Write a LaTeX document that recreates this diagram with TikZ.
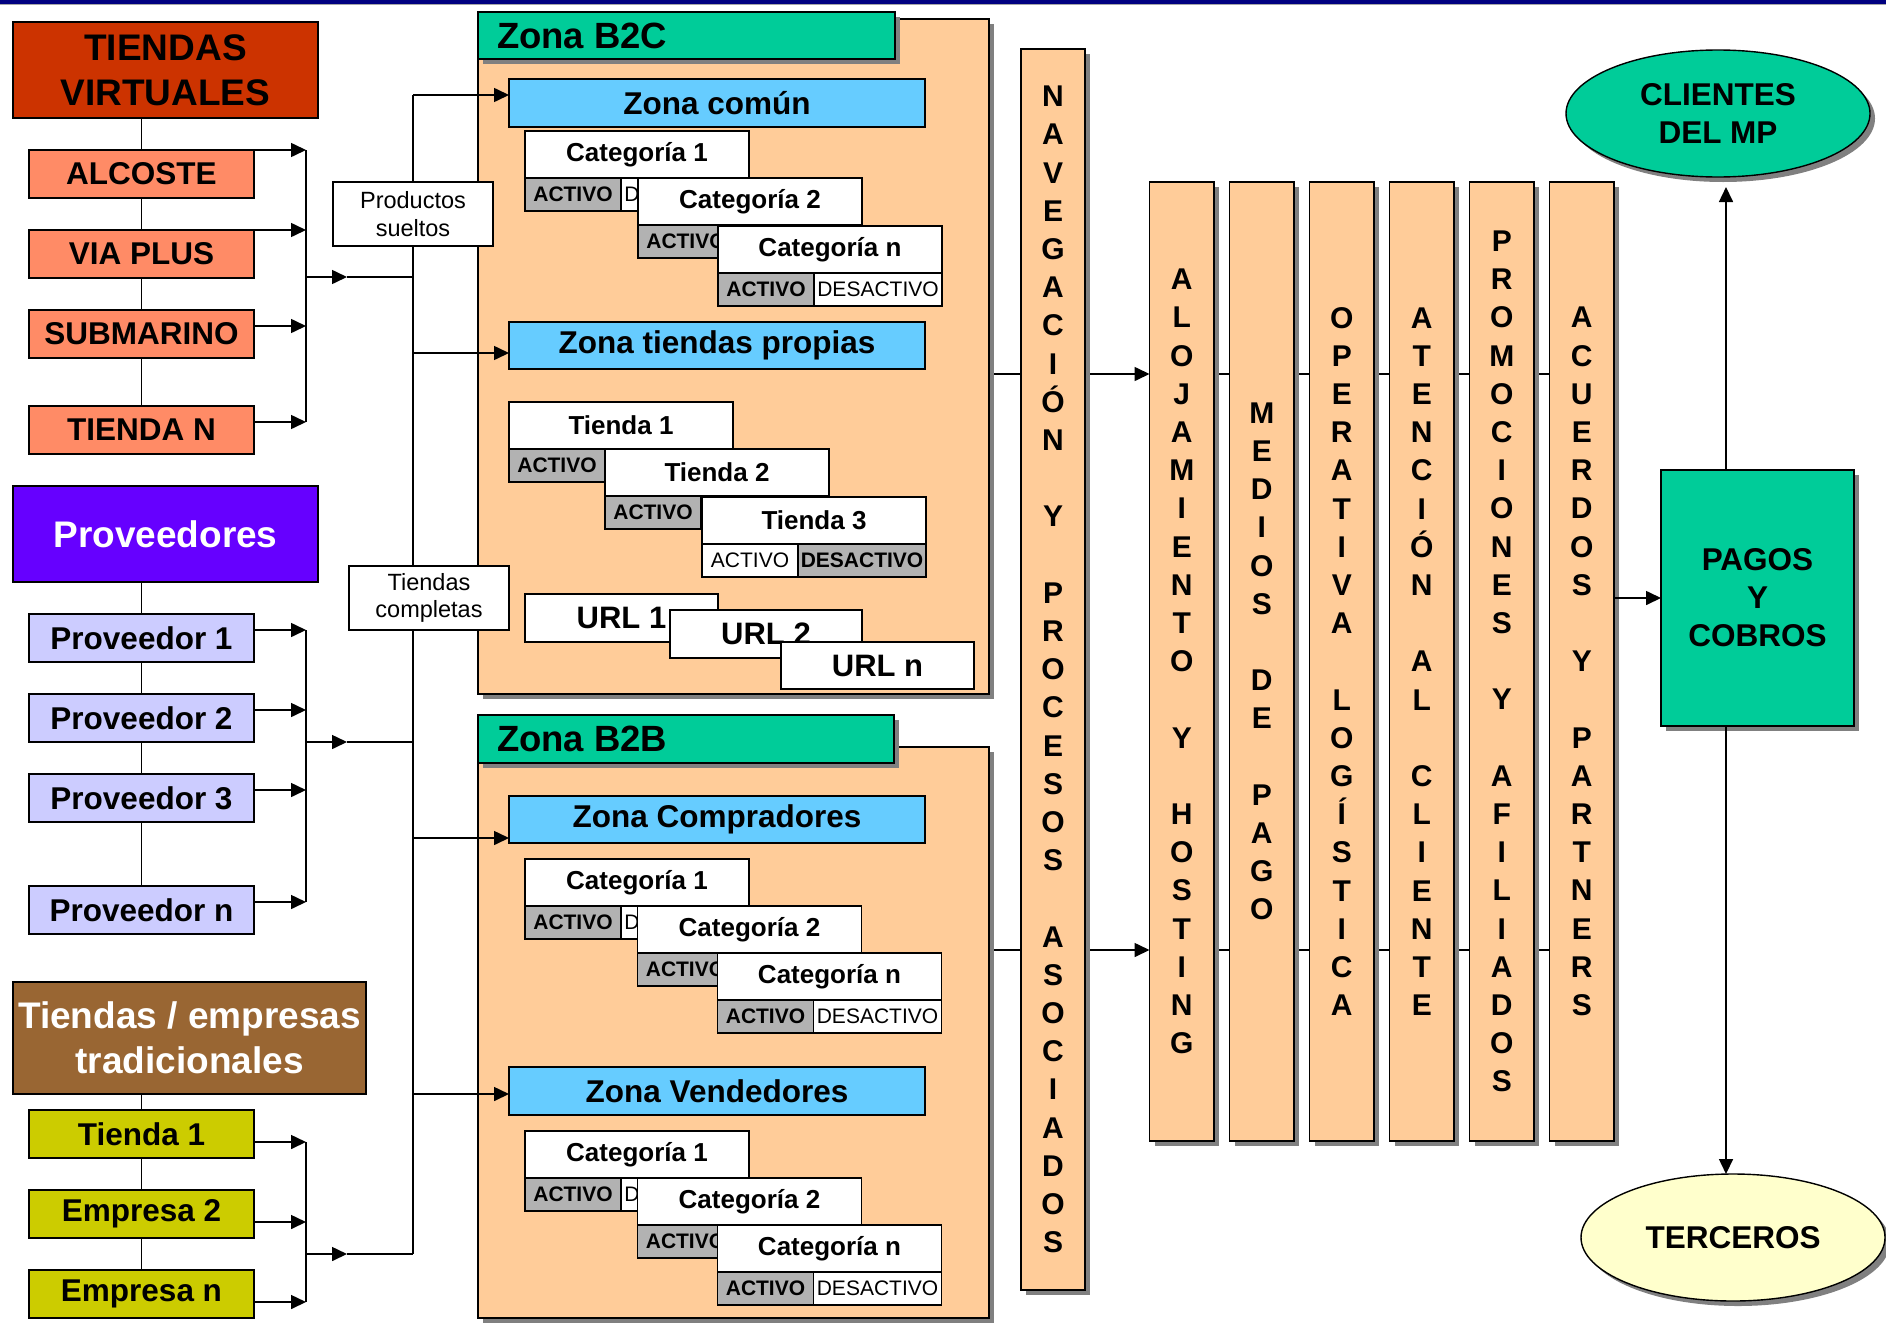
\documentclass[tikz,border=0pt]{standalone}
\usepackage{fontspec}
\setmainfont{Liberation Sans}
\usetikzlibrary{arrows.meta,shapes.geometric,shadows,calc}
\pgfdeclarelayer{bg}
\pgfdeclarelayer{paper}
\pgfsetlayers{paper,bg,main}
\definecolor{cNavy}{HTML}{000080}
\definecolor{cRed}{HTML}{CC3300}
\definecolor{cSalmon}{HTML}{FF8B66}
\definecolor{cPurple}{HTML}{6600FF}
\definecolor{cLav}{HTML}{CCCCFF}
\definecolor{cBrown}{HTML}{996633}
\definecolor{cYel}{HTML}{CCCC00}
\definecolor{cOrange}{HTML}{FFCC99}
\definecolor{cGreen}{HTML}{00CC99}
\definecolor{cBlue}{HTML}{66CCFF}
\definecolor{cGray}{HTML}{B2B2B2}
\definecolor{cCream}{HTML}{FFFFCC}
\definecolor{cShadow}{HTML}{808080}
\newcommand\ftA{\fontsize{37}{45}\selectfont\bfseries}
\newcommand\ftB{\fontsize{31.5}{38}\selectfont\bfseries}
\newcommand\ftS{\fontsize{23.5}{27.5}\selectfont}
\newcommand\ftT{\fontsize{36.5}{44}\selectfont\bfseries}
\newcommand\ftC{\fontsize{26}{31}\selectfont\bfseries}
\newcommand\ftK{\fontsize{21}{25}\selectfont}
\newcommand\ftU{\fontsize{31}{37}\selectfont\bfseries}
\newcommand\ftV{\fontsize{30}{38.2}\selectfont\bfseries}
\newcommand\rbox[7]{%
 \pgfmathsetmacro\rbw{#5-#3}\pgfmathsetmacro\rbh{#6-#4}%
 \node[#2, minimum width=\rbw pt, minimum height=\rbh pt, anchor=north west] (#1) at (#3,#4) {#7};}
\newcommand\catg[6]{%
 \node[bx, fill=white, font=\ftC, minimum width=224pt, minimum height=47pt, anchor=north west] (#1) at (#2,#3) {#4};
 \node[#5, minimum width=96pt, minimum height=33pt, anchor=north west] (#1a) at (#1.south west) {ACTIVO};
 \node[#6, minimum width=128pt, minimum height=33pt, anchor=north west] (#1d) at (#1a.north east) {DESACTIVO};}
\begin{document}
\begin{tikzpicture}[x=1pt,y=-1pt,
 every node/.style={inner sep=0pt, outer sep=0pt},
 bx/.style={draw=black, line width=1.8pt},
 shd/.style={drop shadow={shadow xshift=5pt, shadow yshift=-5pt, opacity=1, fill=cShadow}},
 ln/.style={line width=1.6pt},
 arr/.style={line width=1.6pt, -{Triangle[length=15pt,width=14pt]}},
 acts/.style={bx, fill=cGray, font=\ftK\bfseries},
 deacts/.style={bx, fill=white, font=\ftK},
 actw/.style={bx, fill=white, font=\ftK},
 deactg/.style={bx, fill=cGray, font=\ftK\bfseries},
 zone/.style={bx, fill=cBlue, font=\ftB},
 col/.style={bx, fill=cOrange, shd, font=\ftV, align=center},
 ell/.style={ellipse, draw=black, line width=1.4pt, shd, font=\ftB, align=center, minimum width=304pt, minimum height=127pt}]
\begin{pgfonlayer}{paper}
\path[fill=white, use as bounding box] (0,0) rectangle (1886,1325);
\end{pgfonlayer}
\fill[cNavy] (0,0) rectangle (1886,3.6);
\fill[black!35] (0,3.6) rectangle (1886,5);

% ---------- left column ----------
\rbox{tv}{bx, fill=cRed, font=\ftA, align=center}{13}{22}{318}{118}{TIENDAS\\VIRTUALES}
\rbox{alcoste}{bx, fill=cSalmon, font=\ftB}{29}{150}{254}{198}{ALCOSTE}
\rbox{viaplus}{bx, fill=cSalmon, font=\ftB}{29}{230}{254}{278}{VIA PLUS}
\rbox{submarino}{bx, fill=cSalmon, font=\ftB}{29}{310}{254}{358}{SUBMARINO}
\rbox{tiendan}{bx, fill=cSalmon, font=\ftB}{29}{406}{254}{454}{TIENDA N}

\rbox{prov}{bx, fill=cPurple, text=white, font=\ftA}{13}{486}{318}{582}{Proveedores}
\rbox{p1}{bx, fill=cLav, font=\ftB}{29}{614}{254}{662}{Proveedor 1}
\rbox{p2}{bx, fill=cLav, font=\ftB}{29}{694}{254}{742}{Proveedor 2}
\rbox{p3}{bx, fill=cLav, font=\ftB}{29}{774}{254}{822}{Proveedor 3}
\rbox{pn}{bx, fill=cLav, font=\ftB}{29}{886}{254}{934}{Proveedor n}

\rbox{trad}{bx, fill=cBrown, text=white, font=\ftA, align=center}{13}{982}{366}{1094}{Tiendas / empresas\\tradicionales}
\rbox{t1}{bx, fill=cYel, font=\ftB}{29}{1110}{254}{1158}{Tienda 1}
\rbox{e2}{bx, fill=cYel, font=\ftB}{29}{1190}{254}{1238}{Empresa 2}
\rbox{en}{bx, fill=cYel, font=\ftB}{29}{1270}{254}{1318}{Empresa n}

% ---------- B2C ----------
\rbox{b2c}{bx, fill=cOrange, shd}{478}{19}{989}{694}{}
\rbox{b2ctitle}{bx, fill=cGreen, shd}{478}{12}{895}{59}{}
\node[anchor=west, font=\ftT] (b2clabel) at ([xshift=19pt]b2ctitle.west) {Zona B2C};
\rbox{zc}{zone}{509}{79}{925}{127}{Zona común}
\catg{c1}{525}{131}{Categoría 1}{acts}{deacts}
\catg{c2}{638}{178}{Categoría 2}{acts}{deacts}
\catg{c3}{718}{226}{Categoría n}{acts}{deacts}
\rbox{ztp}{zone}{509}{322}{925}{369}{Zona tiendas propias}
\catg{s1}{509}{402}{Tienda 1}{acts}{deacts}
\catg{s2}{605}{449}{Tienda 2}{acts}{deacts}
\catg{s3}{702}{497}{Tienda 3}{actw}{deactg}
\rbox{u1}{bx, fill=white, font=\ftU}{525}{594}{718}{642}{URL 1}
\rbox{u2}{bx, fill=white, font=\ftU}{670}{610}{862}{658}{URL 2}
\rbox{un}{bx, fill=white, font=\ftU}{781}{642}{974}{689}{URL n}

% ---------- B2B ----------
\rbox{b2b}{bx, fill=cOrange, shd}{478}{747}{989}{1318}{}
\rbox{b2btitle}{bx, fill=cGreen, shd}{478}{715}{894}{763}{}
\node[anchor=west, font=\ftT] (b2blabel) at ([xshift=19pt]b2btitle.west) {Zona B2B};
\rbox{zcomp}{zone}{509}{796}{925}{843}{Zona Compradores}
\catg{d1}{525}{859}{Categoría 1}{acts}{deacts}
\catg{d2}{637.5}{906}{Categoría 2}{acts}{deacts}
\catg{d3}{717.5}{953}{Categoría n}{acts}{deacts}
\rbox{zv}{zone}{509}{1067}{925}{1115}{Zona Vendedores}
\catg{v1}{525}{1131}{Categoría 1}{acts}{deacts}
\catg{v2}{637.5}{1178}{Categoría 2}{acts}{deacts}
\catg{v3}{717.5}{1225}{Categoría n}{acts}{deacts}

% ---------- label boxes ----------
\rbox{ps}{bx, fill=white, font=\ftS, align=center}{333}{182}{493}{246}{Productos\\sueltos}
\rbox{tc}{bx, fill=white, font=\ftS, align=center}{349}{566}{509}{630}{Tiendas\\completas}

% ---------- right part ----------
\rbox{nav}{col}{1021}{49}{1085}{1290}{N\\A\\V\\E\\G\\A\\C\\I\\Ó\\N\\[38.2pt]Y\\[38.2pt]P\\R\\O\\C\\E\\S\\O\\S\\[38.2pt]A\\S\\O\\C\\I\\A\\D\\O\\S}
\rbox{aloj}{col}{1149.5}{182}{1214}{1141}{A\\L\\O\\J\\A\\M\\I\\E\\N\\T\\O\\[38.2pt]Y\\[38.2pt]H\\O\\S\\T\\I\\N\\G}
\rbox{medios}{col}{1229.5}{182}{1294}{1141}{M\\E\\D\\I\\O\\S\\[38.2pt]D\\E\\[38.2pt]P\\A\\G\\O}
\rbox{oper}{col}{1309.5}{182}{1374}{1141}{O\\P\\E\\R\\A\\T\\I\\V\\A\\[38.2pt]L\\O\\G\\Í\\S\\T\\I\\C\\A}
\rbox{aten}{col}{1389.5}{182}{1454}{1141}{A\\T\\E\\N\\C\\I\\Ó\\N\\[38.2pt]A\\L\\[38.2pt]C\\L\\I\\E\\N\\T\\E}
\rbox{promo}{col}{1469.5}{182}{1534}{1141}{P\\R\\O\\M\\O\\C\\I\\O\\N\\E\\S\\[38.2pt]Y\\[38.2pt]A\\F\\I\\L\\I\\A\\D\\O\\S}
\rbox{acue}{col}{1549.5}{182}{1614}{1141}{A\\C\\U\\E\\R\\D\\O\\S\\[38.2pt]Y\\[38.2pt]P\\A\\R\\T\\N\\E\\R\\S}

\rbox{pagos}{bx, fill=cGreen, shd, font=\ftB, align=center}{1661}{470}{1854}{726}{PAGOS\\Y\\COBROS}
\node[ell, fill=cGreen] (cli) at (1718,113.5) {CLIENTES\\DEL MP};
\node[ell, fill=cCream] (ter) at (1733,1237.5) {TERCEROS};

% ---------- coordinates ----------
\coordinate (g1) at (306,150);  \coordinate (g1b) at (306,422);  \coordinate (g1m) at (306,277);  \coordinate (g1t) at (347,277);
\coordinate (g2) at (306,630);  \coordinate (g2b) at (306,902);  \coordinate (g2m) at (306,742);  \coordinate (g2t) at (347,742);
\coordinate (g3) at (306,1142); \coordinate (g3b) at (306,1302); \coordinate (g3m) at (306,1254); \coordinate (g3t) at (347,1254);
\coordinate (hubT) at (413,95); \coordinate (hubB) at (413,1254);
\coordinate (h2) at (413,353); \coordinate (h3) at (413,838); \coordinate (h4) at (413,1094);
\coordinate (rA) at (1000,374); \coordinate (rB) at (1000,950); \coordinate (rC) at (1620,598);
\coordinate (cx) at (1726,0);
\coordinate (s3) at ($(submarino.north east)+(0,16)$);
\coordinate (s4) at ($(tiendan.north east)+(0,16)$);
\coordinate (q1) at ($(p1.north east)+(0,16)$);
\coordinate (q2) at ($(p2.north east)+(0,16)$);
\coordinate (q3) at ($(p3.north east)+(0,16)$);
\coordinate (q4) at ($(pn.north east)+(0,16)$);
\coordinate (k1) at ($(t1.north east)+(0,32)$);
\coordinate (k2) at ($(e2.north east)+(0,32)$);
\coordinate (k3) at ($(en.north east)+(0,32)$);
\coordinate (cliB) at ($(cli.south)+(0,10)$);

% ---------- connectors behind ----------
\begin{pgfonlayer}{bg}
\draw[ln] (alcoste.north |- tv.south) -- (tiendan.north);
\draw[ln] (p1.north |- prov.south) -- (pn.north);
\draw[ln] (t1.north |- trad.south) -- (en.north);
\draw[ln] (hubT) -- (hubB);
\draw[arr] (b2c.east |- rA) -- (aloj.west |- rA);
\draw[ln] (aloj.east |- rA) -- (acue.west |- rA);
\draw[arr] (b2b.east |- rB) -- (aloj.west |- rB);
\draw[ln] (aloj.east |- rB) -- (acue.west |- rB);
\end{pgfonlayer}

% ---------- connectors in front ----------
\draw[arr] (alcoste.north east) -- (alcoste.north east -| g1);
\draw[arr] (viaplus.north east) -- (viaplus.north east -| g1);
\draw[arr] (s3) -- (s3 -| g1);
\draw[arr] (s4) -- (s4 -| g1);
\draw[ln] (g1) -- (g1b);
\draw[arr] (g1m) -- (g1t);
\draw[ln] (g1t) -- (g1m -| hubT);

\draw[arr] (q1) -- (q1 -| g2);
\draw[arr] (q2) -- (q2 -| g2);
\draw[arr] (q3) -- (q3 -| g2);
\draw[arr] (q4) -- (q4 -| g2);
\draw[ln] (g2) -- (g2b);
\draw[arr] (g2m) -- (g2t);
\draw[ln] (g2t) -- (g2m -| hubT);

\draw[arr] (k1) -- (k1 -| g3);
\draw[arr] (k2) -- (k2 -| g3);
\draw[arr] (k3) -- (k3 -| g3);
\draw[ln] (g3) -- (g3b);
\draw[arr] (g3m) -- (g3t);
\draw[ln] (g3t) -- (hubB);

\draw[arr] (hubT) -- (hubT -| zc.west);
\draw[arr] (h2) -- (h2 -| ztp.west);
\draw[arr] (h3) -- (h3 -| zcomp.west);
\draw[arr] (h4) -- (h4 -| zv.west);

\draw[arr] (acue.east |- rC) -- (pagos.west |- rC);
\draw[arr] (pagos.north -| cx) -- (cliB -| cx);
\draw[arr] (pagos.south -| cx) -- (ter.north -| cx);
\end{tikzpicture}
\end{document}
